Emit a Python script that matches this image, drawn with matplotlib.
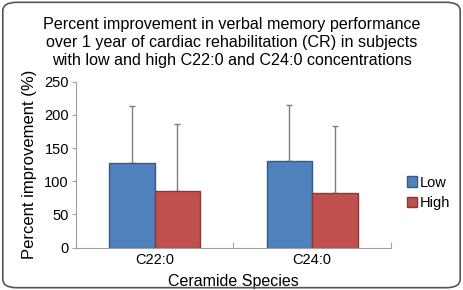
import matplotlib.pyplot as plt
import numpy as np
from matplotlib.patches import FancyBboxPatch

plt.rcParams['font.family'] = ['Liberation Sans', 'DejaVu Sans']

species = ["C22:0", "C24:0"]
low_vals = [128, 131]
high_vals = [85, 82]
low_err = [86, 84]
high_err = [101, 101]

fig = plt.figure(figsize=(4.63, 2.9), dpi=100)
fig.patches.append(FancyBboxPatch((0.006, 0.008), 0.988, 0.984, boxstyle="round,pad=0,rounding_size=0.03",
                                  transform=fig.transFigure, fill=False, edgecolor='#555555', linewidth=1.2))
ax = fig.add_axes([0.164, 0.146, 0.68, 0.572])

x = np.arange(len(species))
w = 0.289
ax.bar(x - w / 2, low_vals, w, color='#4F81BD', edgecolor='#36598A', linewidth=1, label='Low', zorder=2)
ax.bar(x + w / 2, high_vals, w, color='#C0504D', edgecolor='#8C3836', linewidth=1, label='High', zorder=2)
ax.errorbar(x - w / 2, low_vals, yerr=[np.zeros(2), low_err], fmt='none', ecolor='#7F7F7F',
            elinewidth=1, capsize=2.5, capthick=1, zorder=1)
ax.errorbar(x + w / 2, high_vals, yerr=[np.zeros(2), high_err], fmt='none', ecolor='#7F7F7F',
            elinewidth=1, capsize=2.5, capthick=1, zorder=1)

ax.set_xlim(-0.5, 1.5)
ax.set_ylim(0, 250)
ax.set_yticks(range(0, 251, 50))
ax.set_xticks([-0.5, 0.5, 1.5])
ax.set_xticklabels([])
ax.set_xticks(x, minor=True)
ax.set_xticklabels(species, minor=True, fontsize=10.5)
ax.tick_params(axis='x', which='minor', length=0, pad=4)
ax.tick_params(axis='x', which='major', length=4, color='#A0A0A0', direction='in')
ax.tick_params(axis='y', labelsize=10.5, length=3, color='#A0A0A0', pad=2)
for s in ['top', 'right']:
    ax.spines[s].set_visible(False)
for s in ['left', 'bottom']:
    ax.spines[s].set_color('#A0A0A0')

ax.set_xlabel('Ceramide Species', fontsize=11.5, labelpad=5)
ax.set_ylabel('Percent improvement (%)', fontsize=12, labelpad=5)
fig.text(0.5, 0.94, 'Percent improvement in verbal memory performance\n'
         'over 1 year of cardiac rehabilitation (CR) in subjects\n'
         'with low and high C22:0 and C24:0 concentrations',
         ha='center', va='top', fontsize=11.6, linespacing=1.22)

ax.legend(loc='center left', bbox_to_anchor=(1.01, 0.33), frameon=False, fontsize=10.5,
          handlelength=0.7, handleheight=0.7, handletextpad=0.2, labelspacing=0.45)

fig.savefig('out.png', dpi=100)
